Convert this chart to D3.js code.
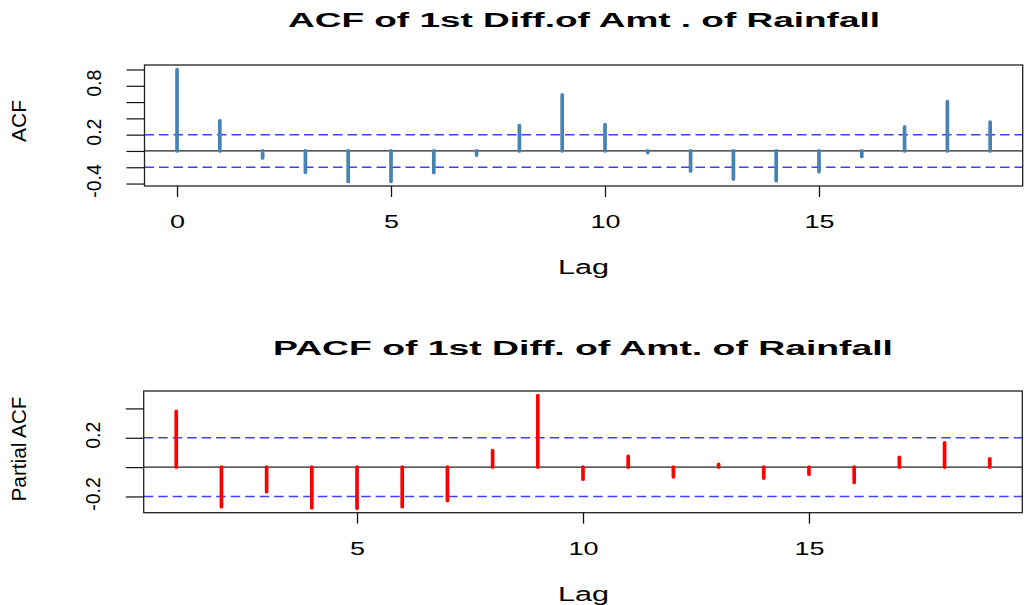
<!DOCTYPE html>
<html>
<head>
<meta charset="utf-8">
<script src="https://cdn.jsdelivr.net/npm/d3@7"></script>
<style>
  html, body { margin: 0; padding: 0; background: #fff; }
  svg { display: block; }
  text { font-family: "Liberation Sans", Arial, Helvetica, sans-serif; fill: #000; }
</style>
</head>
<body>
<svg id="chart" width="1025" height="605"></svg>
<script>
// ---------- data ----------
const acfLags = [0, 1, 2, 3, 4, 5, 6, 7, 8, 9, 10, 11, 12, 13, 14, 15, 16, 17, 18, 19];
const acfValues = [1.0, 0.37, -0.085, -0.26, -0.375, -0.375, -0.265, -0.05, 0.31, 0.69, 0.325, -0.02, -0.245, -0.345, -0.365, -0.255, -0.068, 0.295, 0.605, 0.355];
const pacfLags = [1, 2, 3, 4, 5, 6, 7, 8, 9, 10, 11, 12, 13, 14, 15, 16, 17, 18, 19];
const pacfValues = [0.38, -0.27, -0.168, -0.278, -0.28, -0.27, -0.228, 0.112, 0.488, -0.082, 0.074, -0.066, 0.018, -0.075, -0.048, -0.105, 0.067, 0.166, 0.056];
const confLimit = 0.2;
const acfXTicks = [0, 5, 10, 15];
const pacfXTicks = [5, 10, 15];
const acfYTicks = [-0.4, -0.2, 0, 0.2, 0.4, 0.6, 0.8, 1.0];
const acfYLabels = { "-0.4": "-0.4", "0.2": "0.2", "0.8": "0.8" };
const pacfYTicks = [-0.2, 0, 0.2, 0.4];
const pacfYLabels = { "-0.2": "-0.2", "0.2": "0.2" };
const titles = ["ACF of 1st Diff.of Amt . of Rainfall", "PACF of 1st Diff. of Amt. of Rainfall"];
const yLabels = ["ACF", "Partial ACF"];
const xLabel = "Lag";

// ---------- drawing ----------
const svg = d3.select("#chart");

function extend(lo, hi) { const d = (hi - lo) * 0.04; return [lo - d, hi + d]; }

function panel(opt) {
  const g = svg.append("g");
  const xr = extend(d3.min(opt.lags), d3.max(opt.lags));
  const x = d3.scaleLinear().domain(xr).range([opt.left, opt.right]);
  const yr = extend(Math.min(-confLimit, d3.min(opt.values)), Math.max(confLimit, d3.max(opt.values)));
  const y = d3.scaleLinear().domain(yr).range([opt.bottom, opt.top]);

  // confidence lines
  [confLimit, -confLimit].forEach(c => {
    g.append("line")
      .attr("x1", opt.left).attr("x2", opt.right)
      .attr("y1", y(c)).attr("y2", y(c))
      .attr("stroke", "#3f3fff").attr("stroke-width", 1.5)
      .attr("stroke-dasharray", "9.5,5");
  });
  // zero line
  g.append("line")
    .attr("x1", opt.left).attr("x2", opt.right)
    .attr("y1", y(0)).attr("y2", y(0))
    .attr("stroke", "#222").attr("stroke-width", 1.2);

  // bars
  g.selectAll("line.bar").data(opt.lags.map((l, i) => [l, opt.values[i]]))
    .enter().append("line").attr("class", "bar")
    .attr("x1", d => x(d[0])).attr("x2", d => x(d[0]))
    .attr("y1", y(0)).attr("y2", d => y(d[1]))
    .attr("stroke", opt.color).attr("stroke-width", 3.7)
    .attr("stroke-linecap", "round");

  // box
  g.append("rect")
    .attr("x", opt.left).attr("y", opt.top)
    .attr("width", opt.right - opt.left).attr("height", opt.bottom - opt.top)
    .attr("fill", "none").attr("stroke", "#222").attr("stroke-width", 1.3);

  // x axis
  const xa = g.append("g").attr("transform", `translate(0,${opt.bottom})`)
    .call(d3.axisBottom(x).tickValues(opt.xTicks).tickSize(11).tickSizeOuter(0).tickFormat(d3.format("d")));
  xa.select(".domain").remove();
  xa.selectAll(".tick line").attr("stroke", "#111").attr("stroke-width", 1.3);
  xa.selectAll(".tick text")
    .attr("y", 42).attr("dy", 0)
    .attr("font-size", 19).attr("fill", "#000")
    .attr("font-family", "Liberation Sans, Arial, sans-serif")
    .attr("transform", "scale(1.42,1)");

  // y axis
  const ya = g.append("g").attr("transform", `translate(${opt.left},0)`)
    .call(d3.axisLeft(y).tickValues(opt.yTicks).tickSize(18).tickSizeOuter(0)
      .tickFormat(d => opt.yLabels[String(+d.toFixed(1))] || ""));
  ya.select(".domain").remove();
  ya.selectAll(".tick line").attr("stroke", "#111").attr("stroke-width", 1.2);
  ya.selectAll(".tick text")
    .attr("x", 0).attr("y", 0).attr("dy", 0)
    .attr("text-anchor", "middle")
    .attr("font-size", 19.5).attr("fill", "#000")
    .attr("font-family", "Liberation Sans, Arial, sans-serif")
    .attr("transform", `translate(-43.5,-3) rotate(-90)`);

  // title
  g.append("text")
    .attr("x", opt.titleX).attr("y", opt.titleY)
    .attr("text-anchor", "middle").attr("font-weight", "bold").attr("font-size", 19.5)
    .attr("textLength", opt.titleW).attr("lengthAdjust", "spacingAndGlyphs")
    .text(opt.title);

  // x label
  g.append("text")
    .attr("x", 583.5).attr("y", opt.bottom + 88)
    .attr("text-anchor", "middle").attr("font-size", 19.5)
    .attr("textLength", 51).attr("lengthAdjust", "spacingAndGlyphs")
    .text(xLabel);

  // y label
  g.append("text")
    .attr("transform", `translate(26,${opt.ylabY}) rotate(-90)`)
    .attr("text-anchor", "middle").attr("font-size", 20.5)
    .attr("textLength", opt.ylabW).attr("lengthAdjust", "spacingAndGlyphs")
    .text(opt.ylab);
}

panel({
  lags: acfLags, values: acfValues, color: "#4682B4",
  left: 144.5, right: 1022.7, top: 65, bottom: 186,
  xTicks: acfXTicks, yTicks: acfYTicks, yLabels: acfYLabels,
  title: titles[0], titleX: 584, titleY: 27, titleW: 592,
  ylab: yLabels[0], ylabY: 121, ylabW: 42
});

panel({
  lags: pacfLags, values: pacfValues, color: "#FF0000",
  left: 143.7, right: 1022.3, top: 391, bottom: 512.7,
  xTicks: pacfXTicks, yTicks: pacfYTicks, yLabels: pacfYLabels,
  title: titles[1], titleX: 583, titleY: 355, titleW: 620,
  ylab: yLabels[1], ylabY: 449, ylabW: 105
});
</script>
</body>
</html>
